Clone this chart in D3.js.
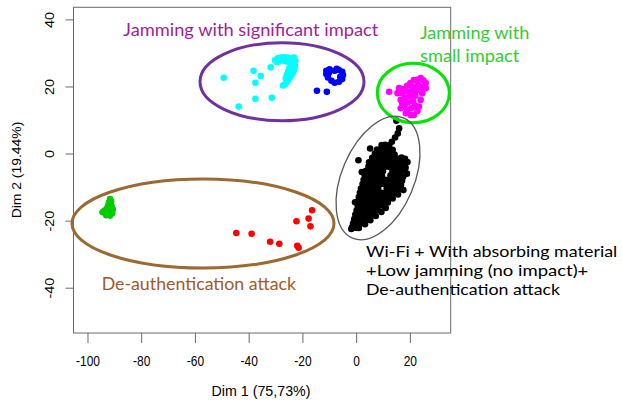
<!DOCTYPE html>
<html><head><meta charset="utf-8">
<script src="https://cdn.jsdelivr.net/npm/d3@7"></script>
<style>
html,body{margin:0;padding:0;background:#fff;}
svg{display:block;}
</style></head>
<body>
<svg id="chart" width="622" height="403"></svg>
<script>
// ---------- data (Dim 1, Dim 2) ----------
const xTicks = [-100, -80, -60, -40, -20, 0, 20];
const yTicks = [-40, -20, 0, 20, 40];
const xTitle = "Dim 1 (75,73%)";
const yTitle = "Dim 2 (19.44%)";

const cyanPts = [
  [-49.3,22.6],[-38.2,24.7],[-35.5,23.1],[-37.5,21.1],[-31.8,25.7],[-37.5,16.3],[-31.4,16.6],[-43.7,14.0],
  [-30.2,27.8],[-29.2,28.4],[-28.0,28.6],[-26.8,28.7],[-25.6,28.6],[-24.5,28.3],[-23.6,27.8],[-23.0,27.0],
  [-22.8,26.1],[-23.0,25.2],[-23.4,24.4],[-24.0,23.6],[-24.6,22.8],[-25.2,22.0],[-25.9,21.2],[-26.6,20.6],
  [-27.2,20.3],[-25.3,24.5],[-24.8,25.6],[-24.3,26.8],[-25.5,27.4],[-26.5,27.6],[-27.6,27.8],[-28.6,27.6],
  [-29.4,27.2],[-24.2,25.0],[-23.8,26.3],[-25.8,23.5],[-26.2,22.4],[-24.9,23.8],[-22.6,27.6],[-23.2,28.6]
];
const bluePts = [
  [-11.1,24.7],[-9.9,25.1],[-8.0,24.7],[-6.4,24.9],[-5.2,24.4],[-4.9,23.4],[-5.2,22.2],[-6.4,21.4],
  [-8.0,21.1],[-9.2,21.7],[-10.5,22.7],[-11.1,23.7],[-5.9,22.9],[-10.1,24.1],[-7.2,25.3],
  [-14.6,18.7],[-10.9,18.4]
];
const magentaPts = [
  [12.3,18.4],
  [21.5,21.9],[24.0,22.5],[22.7,22.0],[25.0,21.8],[25.9,21.0],[25.9,19.5],[20.2,21.0],[19.0,20.2],
  [21.0,20.0],[23.0,20.5],[24.5,19.8],[16.0,19.5],[17.5,19.2],[15.4,18.0],[17.0,18.0],[18.8,18.5],
  [20.5,18.6],[22.5,18.8],[24.6,18.0],[16.6,16.0],[18.2,16.6],[20.0,17.0],[22.0,17.2],[24.0,16.0],
  [17.2,14.8],[19.2,15.2],[21.2,15.5],[23.4,14.0],[22.0,14.2],[16.6,13.5],[18.5,12.0],[20.3,11.5],
  [21.5,11.5],[19.1,12.8],[22.8,12.7],[20.5,13.5],[18.0,14.0]
];
const greenPts = [
  [-91.6,-13.6],[-91.2,-14.2],[-92.0,-14.6],[-91.4,-15.2],[-92.3,-15.6],[-91.0,-15.8],[-92.8,-16.4],
  [-91.6,-16.4],[-90.6,-16.6],[-93.6,-17.0],[-92.4,-17.2],[-91.2,-17.3],[-94.4,-17.5],[-93.2,-17.8],
  [-92.0,-18.0],[-90.8,-17.8],[-91.6,-18.5],[-93.0,-18.4]
];
const redPts = [
  [-44.6,-23.7],[-38.9,-23.9],[-32.0,-26.3],[-28.6,-26.9],[-21.9,-27.5],[-21.4,-28.1],
  [-22.2,-20.2],[-17.7,-19.4],[-17.0,-21.7],[-16.4,-16.9]
];
const blackPts = [
  [15.0,9.8],[16.0,7.5],[15.5,6.0],[14.5,4.8],[13.3,3.5],[12.3,2.5],[11.1,1.2],
  [5.2,1.5],[0.85,-2.0],[2.1,-5.5],[19.1,-2.5],[-1.8,-22.5],[-0.4,-14.5],[18.9,-6.0],
  [9.5,2.5],[10.8,2.6],[7.8,1.2],[9.2,1.0],[12.4,1.3],[13.6,1.1],
  [7.0,0.0],[8.3,-0.1],[9.6,0.1],[11.2,-0.2],[12.8,0.0],[14.3,-0.3],
  [6.0,-1.3],[7.2,-1.2],[8.8,-1.4],[10.3,-1.3],[11.9,-1.2],[13.5,-1.4],[15.2,-1.5],[16.9,-1.2],[18.2,-1.6],
  [4.8,-2.6],[6.4,-2.7],[8.0,-2.5],[9.6,-2.6],[11.1,-2.7],[12.7,-2.5],[14.2,-2.6],[15.8,-2.9],[17.4,-2.5],
  [4.6,-3.9],[5.8,-4.0],[7.4,-3.8],[9.0,-3.9],[10.6,-4.0],[12.2,-3.9],[13.8,-3.8],[15.3,-4.0],[16.9,-3.9],[18.4,-4.2],
  [3.6,-5.2],[5.2,-5.3],[6.8,-5.1],[8.4,-5.2],[10.0,-5.3],[13.5,-5.2],[15.0,-5.1],[16.6,-5.3],[17.9,-5.0],
  [3.2,-6.5],[4.8,-6.6],[6.4,-6.4],[8.0,-6.5],[9.6,-6.6],[12.8,-6.5],[14.3,-6.4],[15.9,-6.6],[17.5,-6.9],
  [2.8,-7.8],[4.4,-7.9],[6.0,-7.7],[7.6,-7.8],[9.2,-7.9],[10.8,-7.8],[12.4,-7.7],[14.0,-7.9],[15.6,-7.8],[17.1,-8.1],
  [2.4,-9.1],[4.0,-9.2],[5.6,-9.0],[7.2,-9.1],[8.8,-9.2],[10.4,-9.1],[12.0,-9.0],[13.5,-9.2],[15.1,-9.1],[16.7,-9.4],
  [1.8,-10.4],[3.4,-10.5],[5.0,-10.3],[6.6,-10.4],[8.2,-10.5],[11.4,-10.4],[13.0,-10.3],[14.6,-10.5],[16.1,-10.6],[17.6,-10.9],
  [1.4,-11.7],[3.0,-11.8],[4.6,-11.6],[6.2,-11.7],[7.8,-11.8],[9.4,-11.7],[11.0,-11.6],[12.6,-11.8],[14.2,-11.7],[15.6,-12.2],
  [1.0,-13.0],[2.6,-13.1],[4.2,-12.9],[5.8,-13.0],[7.4,-13.1],[9.0,-13.0],[10.6,-12.9],[12.2,-13.1],[13.6,-13.4],
  [0.8,-14.3],[2.2,-14.4],[3.8,-14.2],[5.4,-14.3],[7.0,-14.4],[8.6,-14.3],[10.2,-14.2],[11.8,-14.6],
  [0.6,-15.6],[1.9,-15.7],[3.5,-15.5],[5.1,-15.6],[6.7,-15.7],[8.3,-15.6],[9.9,-15.5],[11.0,-16.2],
  [0.2,-16.9],[1.6,-17.0],[3.2,-16.8],[4.8,-16.9],[6.4,-17.0],[8.0,-16.9],[9.4,-17.4],
  [-0.3,-18.2],[1.2,-18.3],[2.8,-18.1],[4.4,-18.2],[6.0,-18.3],[7.3,-18.6],
  [-0.7,-19.5],[0.8,-19.6],[2.4,-19.4],[4.0,-19.5],[5.3,-19.9],
  [-1.1,-20.8],[0.4,-20.9],[1.9,-20.7],[3.3,-21.1],
  [-1.5,-21.9],[-0.2,-22.1],[1.0,-22.2]
];

const groups = [
  {name: "significant-cyan", pts: cyanPts},
  {name: "significant-blue", pts: bluePts},
  {name: "small", pts: magentaPts},
  {name: "deauth-green", pts: greenPts},
  {name: "deauth-red", pts: redPts},
  {name: "wifi", pts: blackPts}
];

// ---------- styles ----------
const colorOf = {
  "significant-cyan": "#00ffff",
  "significant-blue": "#0000ff",
  "small": "#ff00ff",
  "deauth-green": "#00cd00",
  "deauth-red": "#ff0000",
  "wifi": "#000000"
};

const svg = d3.select("#chart");
const L = 73.5, R = 450.7, T = 7.3, B = 333;
const x = d3.scaleLinear().domain([-105.2, 35.2]).range([L, R]);
const y = d3.scaleLinear().domain([-53.5, 43.6]).range([B, T]);

// points
groups.forEach(g => {
  svg.append("g").selectAll("circle").data(g.pts).join("circle")
    .attr("cx", d => x(d[0])).attr("cy", d => y(d[1]))
    .attr("r", 3.3).attr("fill", colorOf[g.name]);
});

// box
svg.append("rect").attr("x", L).attr("y", T).attr("width", R - L).attr("height", B - T)
  .attr("fill", "none").attr("stroke", "#6a6a6a").attr("stroke-width", 1);

// x axis
const gx = svg.append("g").attr("transform", `translate(0,${B})`)
  .call(d3.axisBottom(x).tickValues(xTicks).tickSize(10).tickSizeOuter(0).tickFormat(d3.format("d")));
gx.select(".domain").remove();
gx.selectAll("line").attr("stroke", "#6a6a6a");
gx.selectAll("text").attr("y", null).attr("dy", null)
  .attr("transform", "translate(0,33) scale(1,1.2)")
  .attr("font-family", "'Liberation Sans', Arial, sans-serif").attr("font-size", 12).attr("fill", "#000")
  .text(d => d < 0 ? "-" + Math.abs(d) : d);

// y axis
const gy = svg.append("g").attr("transform", `translate(${L},0)`)
  .call(d3.axisLeft(y).tickValues(yTicks).tickSize(8).tickSizeOuter(0).tickFormat(d3.format("d")));
gy.select(".domain").remove();
gy.selectAll("line").attr("stroke", "#6a6a6a");
gy.selectAll("text").attr("x", null).attr("dy", null).attr("text-anchor", "middle")
  .attr("transform", "translate(-19.2,0) rotate(-90) scale(1.2,1)")
  .attr("font-family", "'Liberation Sans', Arial, sans-serif").attr("font-size", 12).attr("fill", "#000")
  .text(d => d < 0 ? "-" + Math.abs(d) : d);

// axis titles
svg.append("text").attr("transform", "translate(261,395.7) scale(1,1.2)")
  .attr("text-anchor", "middle").attr("font-family", "'Liberation Sans', Arial, sans-serif")
  .attr("font-size", 12).attr("textLength", 99).attr("lengthAdjust", "spacingAndGlyphs").text(xTitle);
svg.append("text").attr("transform", "translate(20.7,170) rotate(-90)")
  .attr("text-anchor", "middle").attr("font-family", "'Liberation Sans', Arial, sans-serif")
  .attr("font-size", 13).attr("textLength", 96.7).attr("lengthAdjust", "spacingAndGlyphs").text(yTitle);

// ellipses (annotation)
svg.append("ellipse").attr("cx", 282).attr("cy", 81.7).attr("rx", 82).attr("ry", 39)
  .attr("fill", "none").attr("stroke", "#7030a0").attr("stroke-width", 3);
svg.append("ellipse").attr("cx", 413.3).attr("cy", 93).attr("rx", 36).attr("ry", 29.7)
  .attr("fill", "none").attr("stroke", "#00e600").attr("stroke-width", 3);
svg.append("ellipse").attr("cx", 0).attr("cy", 0).attr("rx", 36.2).attr("ry", 65.3)
  .attr("transform", "translate(378,178) rotate(23)")
  .attr("fill", "none").attr("stroke", "#595959").attr("stroke-width", 1.3);
svg.append("ellipse").attr("cx", 203).attr("cy", 223.5).attr("rx", 131).attr("ry", 44.5)
  .attr("fill", "none").attr("stroke", "#9c6a30").attr("stroke-width", 3);

// annotation text
const ann = [
  {t: "Jamming with significant impact", x: 123.3, y: 36, len: 255, c: "#a21d9b", fs: 18},
  {t: "Jamming with", x: 420, y: 39, len: 109.3, c: "#33cc33", fs: 18},
  {t: "small impact", x: 420, y: 61.7, len: 99.3, c: "#33cc33", fs: 18},
  {t: "De-authentication attack", x: 101.7, y: 289.7, len: 194.3, c: "#9e5b2a", fs: 18},
  {t: "Wi-Fi + With absorbing material", x: 366, y: 256.7, len: 251.3, c: "#000", fs: 16},
  {t: "+Low jamming (no impact)+", x: 366, y: 276, len: 222.3, c: "#000", fs: 16},
  {t: "De-authentication attack", x: 366, y: 295, len: 194, c: "#000", fs: 16}
];
svg.append("g").selectAll("text").data(ann).join("text")
  .attr("x", d => d.x).attr("y", d => d.y).attr("fill", d => d.c)
  .attr("font-family", "Lato, 'Open Sans', sans-serif").attr("font-size", d => d.fs)
  .attr("textLength", d => d.len).attr("lengthAdjust", "spacingAndGlyphs")
  .text(d => d.t);
</script>
</body></html>
